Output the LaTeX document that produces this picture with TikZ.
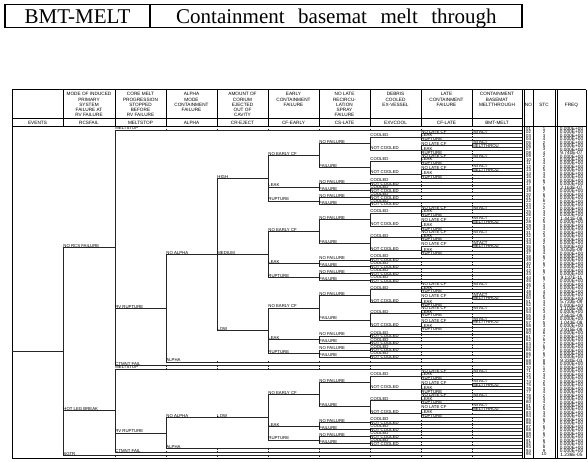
\documentclass[tikz,border=0pt]{standalone}
\usepackage{fontspec}
\setmainfont{Liberation Serif}
\newfontfamily\arl{Liberation Sans}
\def\xEV{12}\def\xRC{63}\def\xMS{115}\def\xAL{166}\def\xCR{217}\def\xCE{268}
\def\xCS{319}\def\xEX{370}\def\xCL{421}\def\xBM{472}\def\xEND{522}
\def\Z{0.000E+00}
\tikzset{
 tl/.style={draw=black!85, line width=0.85pt},
 fr/.style={draw=black, line width=1pt},
 lab/.style={anchor=south west, inner sep=0pt, outer sep=0pt, xshift=0.4pt, yshift=0.2pt, font=\arl\fontsize{4.3}{4.3}\selectfont},
 hdr/.style={anchor=north, align=center, inner sep=0pt, font=\arl\fontsize{4.7}{5.2}\selectfont},
 subh/.style={anchor=center, inner sep=0pt, font=\arl\fontsize{4.7}{5}\selectfont},
 cell/.style={anchor=base, inner sep=0pt, font=\arl\fontsize{4.3}{4.3}\selectfont},
 fcell/.style={anchor=base, inner sep=0pt, font=\arl\fontsize{4.8}{4.8}\selectfont},
 ttl/.style={anchor=base, inner sep=0pt, font=\fontsize{21}{21}\selectfont},
}
\newcommand\hb[4]{\draw[tl] (#1,{Y(#3)}) node[lab]{#4} -- (#2,{Y(#3)});}
\newcommand\vb[3]{\draw[tl] (#1,{Y(#2)}) -- (#1,{Y(#3)});}
\newcommand\tk[2]{\draw[tl] (#1,{Y(#2)-1.1}) -- (#1,{Y(#2)+1.1});}
\newcommand\tks[2]{\foreach \xx in {#2}{\tk{\xx}{#1}}}
\newcommand\coolblk[1]{%
 \hb{\xEX}{\xCL}{#1+1}{COOLED}
 \vb{\xCL}{#1}{#1+2}
 \hb{\xCL}{\xEND}{#1}{NO LATE CF}
 \node[lab] at (\xBM,{Y(#1)}) {INTACT};
 \tks{#1}{\xBM}
 \hb{\xCL}{\xEND}{#1+1}{LEAK}\tks{#1+1}{\xBM}
 \hb{\xCL}{\xEND}{#1+2}{RUPTURE}\tks{#1+2}{\xBM}
 \hb{\xEX}{\xCL}{#1+4.75}{NOT COOLED}
 \vb{\xCL}{#1+3.5}{#1+6}
 \hb{\xCL}{\xBM}{#1+3.5}{NO LATE CF}
 \vb{\xBM}{#1+3}{#1+4}
 \hb{\xBM}{\xEND}{#1+3}{INTACT}
 \hb{\xBM}{\xEND}{#1+4}{MELTTHROU}
 \hb{\xCL}{\xEND}{#1+5}{LEAK}\tks{#1+5}{\xBM}
 \hb{\xCL}{\xEND}{#1+6}{RUPTURE}\tks{#1+6}{\xBM}
}
\newcommand\shortblk[1]{%
 \vb{\xCS}{#1+0.5}{#1+2.5}
 \hb{\xCS}{\xEX}{#1+0.5}{NO FAILURE}
 \vb{\xEX}{#1}{#1+1}
 \hb{\xEX}{\xEND}{#1}{COOLED}\tks{#1}{\xCL,\xBM}
 \hb{\xEX}{\xEND}{#1+1}{NOT COOLED}\tks{#1+1}{\xCL,\xBM}
 \hb{\xCS}{\xEX}{#1+2.5}{FAILURE}
 \vb{\xEX}{#1+2}{#1+3}
 \hb{\xEX}{\xEND}{#1+2}{COOLED}\tks{#1+2}{\xCL,\xBM}
 \hb{\xEX}{\xEND}{#1+3}{NOT COOLED}\tks{#1+3}{\xCL,\xBM}
}
\newcommand\crblk[2]{%
 \hb{\xCR}{\xCE}{#1+12.9375}{#2}
 \vb{\xCE}{#1+6.375}{#1+19.5}
 \hb{\xCE}{\xCS}{#1+6.375}{NO EARLY CF}
 \vb{\xCS}{#1+2.875}{#1+9.875}
 \hb{\xCS}{\xEX}{#1+2.875}{NO FAILURE}
 \vb{\xEX}{#1+1}{#1+4.75}
 \coolblk{#1}
 \hb{\xCS}{\xEX}{#1+9.875}{FAILURE}
 \vb{\xEX}{#1+8}{#1+11.75}
 \coolblk{#1+7}
 \hb{\xCE}{\xCS}{#1+15.5}{LEAK}
 \shortblk{#1+14}
 \hb{\xCE}{\xCS}{#1+19.5}{RUPTURE}
 \shortblk{#1+18}
}
\begin{document}
\begin{tikzpicture}[x=1pt,y=-1pt,declare function={Y(\r)=130+3.465*\r;}]
\useasboundingbox (0,0) rectangle (588,461);
% title box
\draw[line width=1.2pt] (5,4.3) rectangle (522,27.3);
\draw[line width=1.2pt] (150,4.3) -- (150,27.3);
\node[ttl] (t1) at (77.5,23.8) {BMT-MELT};
\node[ttl,anchor=base west] (t2) at (176,23.8) {\spaceskip=13.5pt\relax Containment basemat melt through};
% table frame
\draw[fr] (12,89.5) -- (586,89.5);
\draw[fr] (12,118.5) -- (522,118.5);
\draw[fr] (12,126.8) -- (586,126.8);
\draw[fr] (12,458.5) -- (586,458.5);
\foreach \xx in {12,522,524,533,555,557,586} \draw[fr] (\xx,89.5) -- (\xx,458.5);
\foreach \xx in {63,115,166,217,268,319,370,421,472} \draw[fr] (\xx,89.5) -- (\xx,126.8);
% headers
\node[hdr] (h2) at (89,92.5) {MODE OF INDUCED\\PRIMARY\\SYSTEM\\FAILURE AT\\RV FAILURE};
\node[hdr] (h3) at (140.5,92.5) {CORE MELT\\PROGRESSION\\STOPPED\\BEFORE\\RV FAILURE};
\node[hdr] (h4) at (191.5,92.5) {ALPHA\\MODE\\CONTAINMENT\\FAILURE};
\node[hdr] (h5) at (242.5,92.5) {AMOUNT OF\\CORIUM\\EJECTED\\OUT OF\\CAVITY};
\node[hdr] (h6) at (293.5,92.5) {EARLY\\CONTAINMENT\\FAILURE};
\node[hdr] (h7) at (344.5,92.5) {NO LATE\\RECIRCU-\\LATION\\SPRAY\\FAILURE};
\node[hdr] (h8) at (395.5,92.5) {DEBRIS\\COOLED\\EX-VESSEL};
\node[hdr] (h9) at (446.5,92.5) {LATE\\CONTAINMENT\\FAILURE};
\node[hdr] (h10) at (497,92.5) {CONTAINMENT\\BASEMAT\\MELTTHROUGH};
\node[subh] (hno) at (528.5,105) {NO};
\node[subh] (hstc) at (544,105) {STC};
\node[subh] (hfq) at (571.5,105) {FREQ};
\foreach \lbl/\cx [count=\k] in {EVENTS/37.5,RCSFAIL/89,MELTSTOP/140.5,ALPHA/191.5,CR-EJECT/242.5,CF-EARLY/293.5,CS-LATE/344.5,EXVCOOL/395.5,CF-LATE/446.5,BMT-MELT/497}
  \node[subh] (s\k) at (\cx,122.7) {\lbl};
% tree
\hb{\xEV}{\xRC}{64}{}
\vb{\xRC}{34}{94}
\hb{\xRC}{\xMS}{34}{NO RCS FAILURE}
\vb{\xMS}{0}{68}
\hb{\xMS}{\xEND}{0}{MELTSTOP}\tks{0}{\xAL,\xCR,\xCE,\xCS,\xEX,\xCL,\xBM}
\hb{\xMS}{\xAL}{51.46875}{RV RUPTURE}
\vb{\xAL}{35.9375}{67}
\hb{\xAL}{\xCR}{35.9375}{NO ALPHA}
\vb{\xCR}{13.9375}{57.9375}
\crblk{1}{HIGH}
\crblk{23}{MEDIUM}
\crblk{45}{LOW}
\hb{\xAL}{\xEND}{67}{ALPHA}\tks{67}{\xCR,\xCE,\xCS,\xEX,\xCL,\xBM}
\hb{\xMS}{\xEND}{68}{CTMNT FAIL}\tks{68}{\xAL,\xCR,\xCE,\xCS,\xEX,\xCL,\xBM}
\hb{\xRC}{\xMS}{81}{HOT LEG BREAK}
\vb{\xMS}{69}{93}
\hb{\xMS}{\xEND}{69}{MELTSTOP}\tks{69}{\xAL,\xCR,\xCE,\xCS,\xEX,\xCL,\xBM}
\hb{\xMS}{\xAL}{87.46875}{RV RUPTURE}
\vb{\xAL}{82.9375}{92}
\hb{\xAL}{\xCR}{82.9375}{NO ALPHA}\tks{82.9375}{\xCR}
\crblk{70}{LOW}
\hb{\xAL}{\xEND}{92}{ALPHA}\tks{92}{\xCR,\xCE,\xCS,\xEX,\xCL,\xBM}
\hb{\xMS}{\xEND}{93}{CTMNT FAIL}\tks{93}{\xAL,\xCR,\xCE,\xCS,\xEX,\xCL,\xBM}
\hb{\xRC}{\xEND}{94}{SGTR}\tks{94}{\xMS,\xAL,\xCR,\xCE,\xCS,\xEX,\xCL,\xBM}
% end columns
\foreach \st [count=\n] in {1,
 2,3,4,2,5,3,4,2,3,4,2,5,3,4,6,7,6,7,6,7,6,7,
 2,3,4,2,5,3,4,2,3,4,2,5,3,4,6,7,6,7,6,7,6,7,
 2,3,4,2,5,3,4,2,3,4,2,5,3,4,6,7,6,7,6,7,6,7,
 8,9,1,
 2,3,4,2,5,3,4,2,3,4,2,5,3,4,6,7,6,7,6,7,6,7,
 8,9,10}{
 \pgfmathsetmacro\yy{Y(\n-1)+0.2}
 \node[cell] (no\n) at (528.5,\yy) {\ifnum\n<10 0\fi\n};
 \node[cell] (st\n) at (544,\yy) {\st};
}
\foreach \fq [count=\n] in {\Z,
 \Z,\Z,\Z,\Z,\Z,\Z,9.740E-07,\Z,\Z,\Z,\Z,\Z,\Z,\Z,\Z,\Z,2.163E-07,\Z,\Z,\Z,\Z,\Z,
 \Z,\Z,\Z,1.441E-08,\Z,\Z,\Z,\Z,\Z,\Z,\Z,\Z,4.052E-09,\Z,\Z,\Z,\Z,\Z,\Z,\Z,9.137E-11,\Z,
 \Z,\Z,\Z,\Z,\Z,5.733E-09,\Z,1.102E-08,\Z,3.561E-09,\Z,1.043E-08,\Z,2.915E-09,\Z,\Z,\Z,\Z,\Z,\Z,\Z,\Z,
 9.330E-03,\Z,\Z,
 \Z,\Z,\Z,\Z,\Z,\Z,\Z,\Z,\Z,\Z,\Z,\Z,\Z,\Z,\Z,\Z,\Z,\Z,\Z,\Z,\Z,\Z,
 \Z,\Z,1.236E-05}{
 \pgfmathsetmacro\yy{Y(\n-1)+0.3}
 \node[fcell] (fq\n) at (571.5,\yy) {\fq};
}
\end{tikzpicture}
\end{document}
